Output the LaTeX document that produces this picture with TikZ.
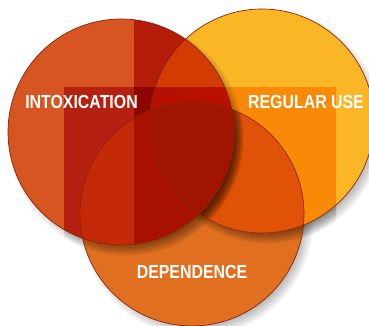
\documentclass[tikz,border=0pt]{standalone}
\usepackage{fontspec}
\newfontfamily\labelfont[FakeStretch=0.84]{Liberation Sans}
\usetikzlibrary{calc}
\definecolor{intbase}{HTML}{D65520}
\definecolor{intvert}{HTML}{B51C0A}
\definecolor{intband}{HTML}{B52010}
\definecolor{intdeep}{HTML}{8E0500}
\definecolor{intdep}{HTML}{C42A08}
\definecolor{intdepdeep}{HTML}{A81000}
\definecolor{intreg}{HTML}{D23C00}
\definecolor{intregband}{HTML}{B81000}
\definecolor{allthree}{HTML}{A01400}
\definecolor{regbase}{HTML}{FBB626}
\definecolor{regband}{HTML}{F88A08}
\definecolor{regdep}{HTML}{E05208}
\definecolor{depbase}{HTML}{E07020}
\definecolor{rimcol}{HTML}{8A2508}
\tikzset{
  rim/.style={draw=rimcol, line width=0.7bp},
  tag/.style={text=white, inner sep=0pt, font=\labelfont\bfseries\fontsize{19}{19}\selectfont}
}
\def\softshadow(#1)(#2:#3){\foreach \k in {0,...,7} \fill[black, opacity=#3] ($(#1)+(5,6)$) circle ({#2-6+1.5*\k});}

\begin{document}
\begin{tikzpicture}[x=1bp,y=-1bp]
			%%%%% START %%%%%
			\useasboundingbox[fill=white] (0,0) rectangle (369,326);
			
			\coordinate (cI) at (121,132);
			\coordinate (cR) at (262,121);
			\coordinate (cD) at (192,214);
			
			% shadows on the paper
			\softshadow(cI)(113:0.035)
			\softshadow(cR)(112:0.035)
			\softshadow(cD)(112:0.035)
			\begin{scope}
				\clip (64,87) rectangle (336,253);
				\softshadow(cI)(113:0.03)
				\softshadow(cR)(112:0.03)
			\end{scope}
			
			% dependence
			\fill[depbase] (cD) circle (112);
			\begin{scope}
				\clip (cD) circle (112);
				\softshadow(cR)(112:0.06)
			\end{scope}
			
			% regular use
			\fill[regbase] (cR) circle (112);
			\begin{scope}
				\clip (cR) circle (112);
				\fill[regband] (64,87) rectangle (336,253);
				\clip (cD) circle (112);
				\fill[regdep] (cD) circle (112);
			\end{scope}
			
			% shadow of intoxication
			\begin{scope}
				\clip (cD) circle (112);
				\softshadow(cI)(113:0.06)
			\end{scope}
			\begin{scope}
				\clip (cR) circle (112);
				\softshadow(cI)(113:0.05)
			\end{scope}
			
			% intoxication
			\fill[intbase] (cI) circle (113);
			\begin{scope}
				\clip (cI) circle (113);
				\fill[intvert] (134,0) rectangle (369,87);
				\fill[intband] (64,87) rectangle (134,326);
				\fill[intdeep] (134,87) rectangle (369,326);
				\begin{scope}
					\clip (cD) circle (112);
					\fill[intdep] (0,87) rectangle (134,326);
					\fill[intdepdeep] (134,87) rectangle (369,326);
				\end{scope}
				\clip (cR) circle (112);
				\fill[intreg] (cR) circle (112);
				\fill[intregband] (64,87) rectangle (369,326);
				\clip (cD) circle (112);
				\fill[allthree] (cD) circle (112);
			\end{scope}
			
			\draw[rim] (cD) circle (112);
			\draw[rim] (cR) circle (112);
			\draw[rim] (cI) circle (113);
			
			\node[tag] (intox) at (81.5,101.5) {INTOXICATION};
			\node[tag] (reguse) at (306,101.5) {REGULAR USE};
			\node[tag] (depend) at (192,272) {DEPENDENCE};
			%%%%% END %%%%%
\end{tikzpicture}
\end{document}
